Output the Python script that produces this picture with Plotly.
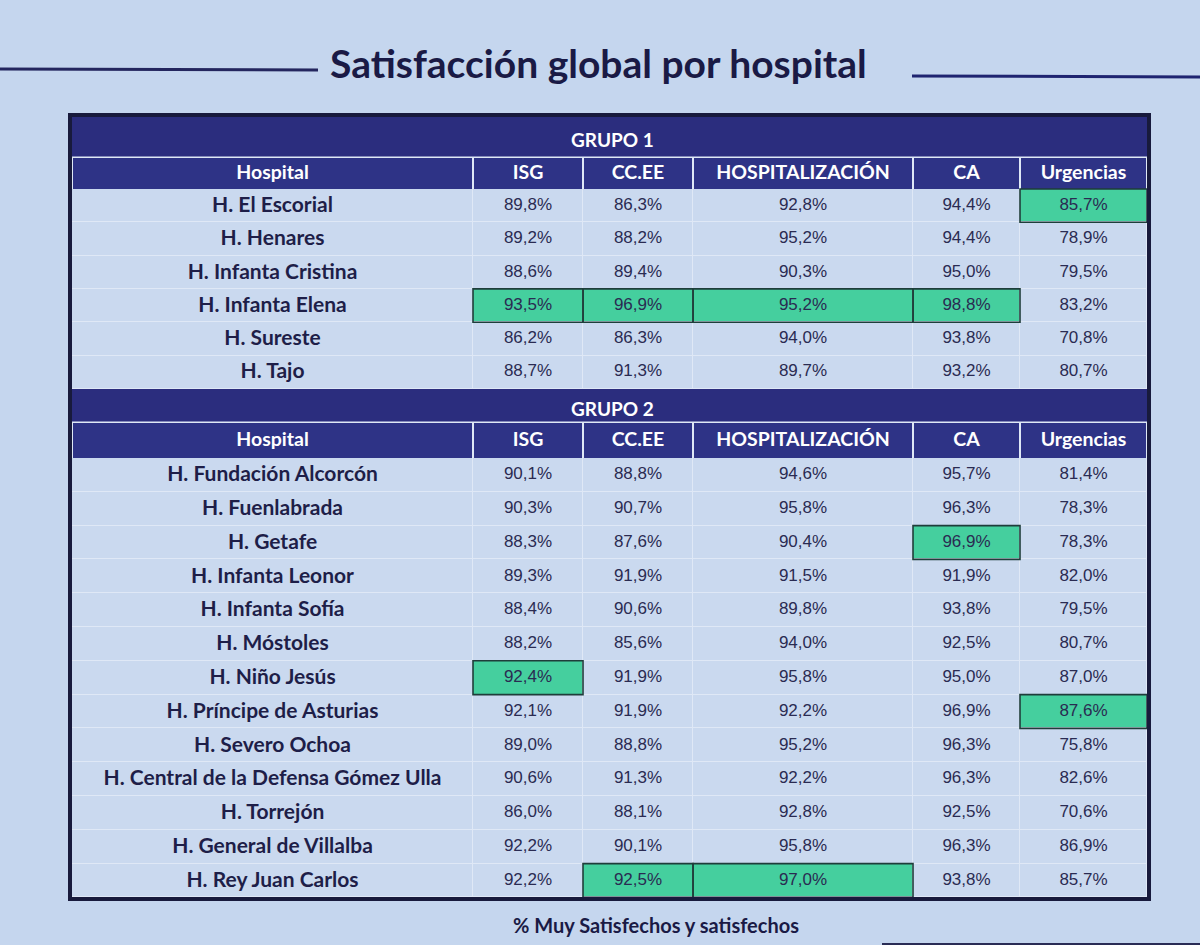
import plotly.graph_objects as go

# ---------------- data ----------------
columns = ["Hospital", "ISG", "CC.EE", "HOSPITALIZACIÓN", "CA", "Urgencias"]

g1_hospitals = ["H. El Escorial", "H. Henares", "H. Infanta Cristina",
                "H. Infanta Elena", "H. Sureste", "H. Tajo"]
g1_isg = [89.8, 89.2, 88.6, 93.5, 86.2, 88.7]
g1_ccee = [86.3, 88.2, 89.4, 96.9, 86.3, 91.3]
g1_hosp = [92.8, 95.2, 90.3, 95.2, 94.0, 89.7]
g1_ca = [94.4, 94.4, 95.0, 98.8, 93.8, 93.2]
g1_urg = [85.7, 78.9, 79.5, 83.2, 70.8, 80.7]
g1_highlight = [3, 3, 3, 3, 0]   # highlighted row per value column

g2_hospitals = ["H. Fundación Alcorcón", "H. Fuenlabrada", "H. Getafe",
                "H. Infanta Leonor", "H. Infanta Sofía", "H. Móstoles",
                "H. Niño Jesús", "H. Príncipe de Asturias", "H. Severo Ochoa",
                "H. Central de la Defensa Gómez Ulla", "H. Torrejón",
                "H. General de Villalba", "H. Rey Juan Carlos"]
g2_isg = [90.1, 90.3, 88.3, 89.3, 88.4, 88.2, 92.4, 92.1, 89.0, 90.6, 86.0, 92.2, 92.2]
g2_ccee = [88.8, 90.7, 87.6, 91.9, 90.6, 85.6, 91.9, 91.9, 88.8, 91.3, 88.1, 90.1, 92.5]
g2_hosp = [94.6, 95.8, 90.4, 91.5, 89.8, 94.0, 95.8, 92.2, 95.2, 92.2, 92.8, 95.8, 97.0]
g2_ca = [95.7, 96.3, 96.9, 91.9, 93.8, 92.5, 95.0, 96.9, 96.3, 96.3, 92.5, 96.3, 93.8]
g2_urg = [81.4, 78.3, 78.3, 82.0, 79.5, 80.7, 87.0, 87.6, 75.8, 82.6, 70.6, 86.9, 85.7]
g2_highlight = [6, 12, 12, 2, 7]

group_labels = ["GRUPO 1", "GRUPO 2"]
title_text = "Satisfacción global por hospital"
footer_text = "% Muy Satisfechos y satisfechos"

# ---------------- style / layout ----------------
W, H = 1200, 945
BG = "#c5d6ee"
NAVY = "#2e3386"
BAND = "#2b2d7e"
CELL = "#cad9ef"
GREEN = "#45cf9e"
NAME_COLOR = "#1e1e48"
VAL_COLOR = "#2a2b52"
LIGHT_LINE = "#dfe8f6"
HL_LINE = "#1f3d3a"
FRAME = "#181a3c"
BOLD_FONT = "Lato, Open Sans, sans-serif"
VAL_FONT = "Liberation Sans, Arial, sans-serif"

X_LEFT = 72
colwidths = [401, 110, 110, 220, 107, 127]
col_edges = [X_LEFT]
for w in colwidths:
    col_edges.append(col_edges[-1] + w)
X_RIGHT = col_edges[-1]
col_centers = [(col_edges[i] + col_edges[i + 1]) / 2 for i in range(len(colwidths))]

# group geometry: band top, header top, rows top, row height
groups = [
    dict(names=g1_hospitals, cols=[g1_isg, g1_ccee, g1_hosp, g1_ca, g1_urg],
         hl=g1_highlight, label=group_labels[0],
         band_top=117, head_top=158, rows_top=189, row_h=33.3),
    dict(names=g2_hospitals, cols=[g2_isg, g2_ccee, g2_hosp, g2_ca, g2_urg],
         hl=g2_highlight, label=group_labels[1],
         band_top=389, head_top=423, rows_top=458, row_h=33.8),
]


def fmt(v):
    return f"{v:.1f}".replace(".", ",") + "%"


fig = go.Figure()
shapes = []
annotations = []

# light layer below table so that cell gaps appear as thin light lines
shapes.append(dict(type="rect", xref="x", yref="y", x0=X_LEFT, x1=X_RIGHT,
                   y0=117, y1=900, fillcolor=LIGHT_LINE, line=dict(width=0),
                   layer="below"))

for g in groups:
    n = len(g["names"])
    row_edges = [g["rows_top"] + i * g["row_h"] for i in range(n + 1)]
    row_centers = [(row_edges[i] + row_edges[i + 1]) / 2 for i in range(n)]

    # band with group label
    shapes.append(dict(type="rect", xref="x", yref="y", x0=X_LEFT, x1=X_RIGHT,
                       y0=g["band_top"], y1=g["head_top"] - 1.5,
                       fillcolor=BAND, line=dict(width=0), layer="below"))
    annotations.append(dict(text=f"<b>{g['label']}</b>", x=612,
                            y=(g["band_top"] + g["head_top"]) / 2 + 2,
                            xref="x", yref="y", showarrow=False,
                            xanchor="center", yanchor="middle",
                            font=dict(family=BOLD_FONT, size=19, color="white")))

    # header row
    fig.add_trace(go.Heatmap(
        x=col_edges, y=[g["head_top"], g["rows_top"]],
        z=[[0] * len(columns)], colorscale=[[0, NAVY], [1, NAVY]],
        showscale=False, xgap=2, ygap=0, hoverinfo="skip"))
    fig.add_trace(go.Scatter(
        x=col_centers, y=[(g["head_top"] + g["rows_top"]) / 2 + 1] * len(columns),
        mode="text", text=[f"<b>{c}</b>" for c in columns],
        textfont=dict(family=BOLD_FONT, size=19.5, color="white"),
        hoverinfo="skip"))

    # body cells
    z = [[0] + [1 if g["hl"][c] == r else 0 for c in range(len(g["cols"]))]
         for r in range(n)]
    fig.add_trace(go.Heatmap(
        x=col_edges, y=row_edges, z=z, zmin=0, zmax=1,
        colorscale=[[0, CELL], [1, GREEN]], showscale=False,
        xgap=1, ygap=1, hoverinfo="skip"))

    # hospital names
    fig.add_trace(go.Scatter(
        x=[col_centers[0]] * n, y=[c + 1 for c in row_centers], mode="text",
        text=[f"<b>{h}</b>" for h in g["names"]],
        textfont=dict(family=BOLD_FONT, size=21, color=NAME_COLOR),
        hoverinfo="skip"))

    # values
    for ci, col in enumerate(g["cols"]):
        fig.add_trace(go.Scatter(
            x=[col_centers[ci + 1]] * n, y=row_centers, mode="text",
            text=[fmt(v) for v in col],
            textfont=dict(family=VAL_FONT, size=17, color=VAL_COLOR),
            hoverinfo="skip"))
        r = g["hl"][ci]
        shapes.append(dict(type="rect", xref="x", yref="y",
                           x0=col_edges[ci + 1], x1=col_edges[ci + 2],
                           y0=row_edges[r], y1=row_edges[r + 1],
                           fillcolor="rgba(0,0,0,0)",
                           line=dict(color=HL_LINE, width=1.6), layer="above"))

# outer frame
shapes.append(dict(type="rect", xref="x", yref="y", x0=X_LEFT - 2, x1=X_RIGHT + 2,
                   y0=115, y1=899, fillcolor="rgba(0,0,0,0)",
                   line=dict(color=FRAME, width=4), layer="above"))
# title rules
shapes.append(dict(type="line", xref="x", yref="y", x0=0, x1=318, y0=69, y1=70,
                   line=dict(color="#24265e", width=3)))
shapes.append(dict(type="line", xref="x", yref="y", x0=912, x1=1200, y0=76, y1=77,
                   line=dict(color="#1f2470", width=3)))
# partial rule at the bottom edge of the slide
shapes.append(dict(type="line", xref="x", yref="y", x0=882, x1=1200, y0=944, y1=944,
                   line=dict(color="#2a2c55", width=2)))

annotations.append(dict(text=f"<b>{title_text}</b>", x=598, y=63, xref="x", yref="y",
                        showarrow=False, xanchor="center", yanchor="middle",
                        font=dict(family=BOLD_FONT, size=39, color="#1a1a45")))
annotations.append(dict(text=f"<b>{footer_text}</b>", x=656, y=925, xref="x", yref="y",
                        showarrow=False, xanchor="center", yanchor="middle",
                        font=dict(family=BOLD_FONT, size=20, color="#1a1a45")))

fig.update_layout(
    width=W, height=H,
    margin=dict(l=0, r=0, t=0, b=0),
    paper_bgcolor=BG, plot_bgcolor=BG,
    xaxis=dict(range=[0, W], visible=False, fixedrange=True, domain=[0, 1]),
    yaxis=dict(range=[H, 0], visible=False, fixedrange=True, domain=[0, 1]),
    shapes=shapes, annotations=annotations,
    showlegend=False,
)

fig.write_html("out.html", config={"displayModeBar": False},
               post_script="document.body.style.margin='0';"
                           "document.body.style.overflow='hidden';")
